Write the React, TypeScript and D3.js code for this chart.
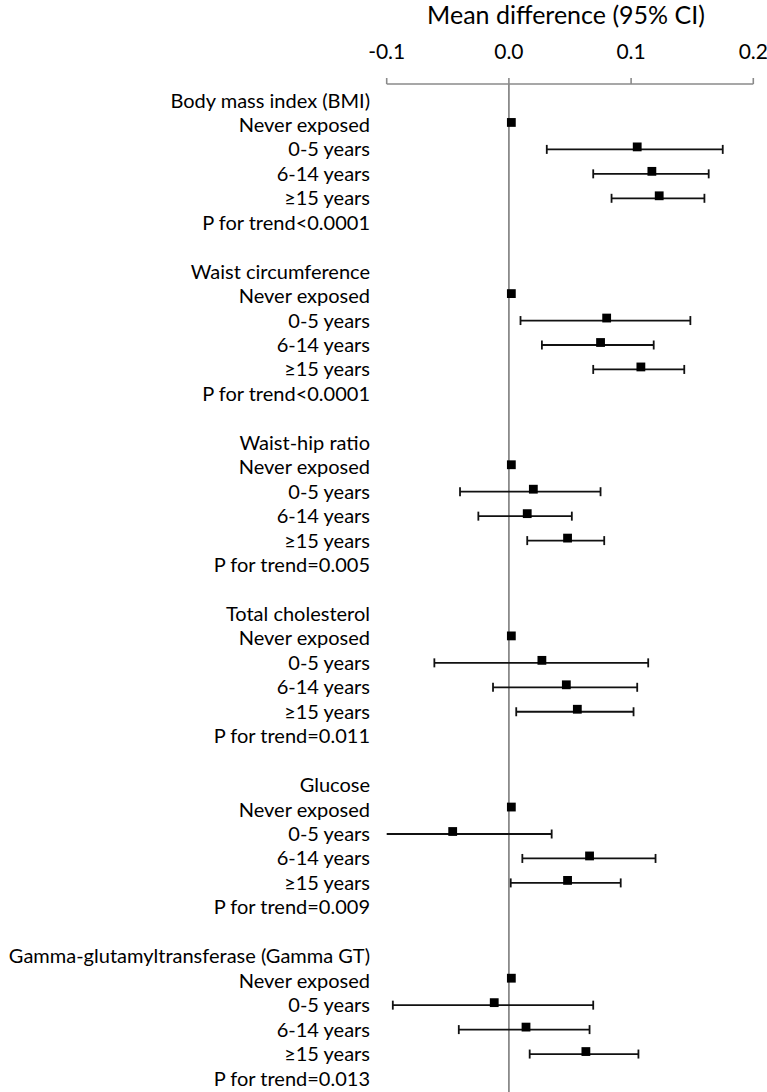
import React from "react";
import * as d3 from "d3";

const outcomes = [
  "Body mass index (BMI)",
  "Waist circumference",
  "Waist-hip ratio",
  "Total cholesterol",
  "Glucose",
  "Gamma-glutamyltransferase (Gamma GT)",
];
const exposures = ["Never exposed", "0-5 years", "6-14 years", "≥15 years"];
const pTrend = [
  "P for trend<0.0001",
  "P for trend<0.0001",
  "P for trend=0.005",
  "P for trend=0.011",
  "P for trend=0.009",
  "P for trend=0.013",
];
// mean difference per outcome, by exposure (Never, 0-5, 6-14, >=15)
const estimate = [
  [0.002, 0.105, 0.117, 0.123],
  [0.002, 0.08, 0.075, 0.108],
  [0.002, 0.02, 0.015, 0.048],
  [0.002, 0.027, 0.047, 0.056],
  [0.002, -0.046, 0.066, 0.048],
  [0.002, -0.012, 0.014, 0.063],
];
const lower = [
  [null, 0.031, 0.069, 0.084],
  [null, 0.0095, 0.027, 0.069],
  [null, -0.04, -0.025, 0.015],
  [null, -0.061, -0.013, 0.006],
  [null, -0.105, 0.011, 0.0015],
  [null, -0.095, -0.041, 0.017],
];
const upper = [
  [null, 0.175, 0.1635, 0.16],
  [null, 0.1485, 0.1185, 0.1435],
  [null, 0.075, 0.0515, 0.078],
  [null, 0.114, 0.105, 0.102],
  [null, 0.035, 0.12, 0.0915],
  [null, 0.069, 0.066, 0.106],
];
const ticks = [-0.1, 0, 0.1, 0.2];
const tickLabels = ["-0.1", "0.0", "0.1", "0.2"];
const title = "Mean difference (95% CI)";

const W = 767;
const H = 1092;
const FONT = "Lato, 'Open Sans', sans-serif";

export default function App() {
  const x = d3.scaleLinear().domain([-0.1, 0.2]).range([386.7, 753.3]);
  const rowY = (i: number) => 99.5 + i * 24.45;
  const axisY = 84;
  const labelX = 370;
  const grey = "#8a8a8a";

  const rows: { text: string; y: number; g: number; k: number | null }[] = [];
  outcomes.forEach((o, g) => {
    const base = g * 7;
    rows.push({ text: o, y: rowY(base), g, k: null });
    exposures.forEach((e, k) => rows.push({ text: e, y: rowY(base + 1 + k), g, k }));
    rows.push({ text: pTrend[g], y: rowY(base + 5), g, k: null });
  });

  const [d0, d1] = x.domain();
  const clamp = (v: number) => Math.max(d0, Math.min(d1, v));

  return (
    <svg
      width={W}
      height={H}
      style={{ position: "absolute", left: 0, top: 0, background: "#fff" }}
      fontFamily={FONT}
    >
      <rect x={0} y={0} width={W} height={H} fill="#fff" />
      <text x={566} y={14} fontSize={25} textAnchor="middle" dominantBaseline="central" fill="#000">
        {title}
      </text>
      {ticks.map((t, i) => (
        <text key={t} x={x(t)} y={50} fontSize={21} textAnchor="middle" dominantBaseline="central" fill="#000">
          {tickLabels[i]}
        </text>
      ))}
      <line x1={x(d0)} x2={x(d1)} y1={axisY} y2={axisY} stroke={grey} strokeWidth={1.6} />
      {ticks.map((t) => (
        <line key={"t" + t} x1={x(t)} x2={x(t)} y1={axisY - 6} y2={axisY} stroke={grey} strokeWidth={1.6} />
      ))}
      <line x1={x(0)} x2={x(0)} y1={axisY} y2={H} stroke={grey} strokeWidth={1.8} />

      {rows.map((r, i) => (
        <text key={"l" + i} x={labelX} y={r.y} fontSize={20} textAnchor="end" dominantBaseline="central" fill="#000">
          {r.text}
        </text>
      ))}

      {rows
        .filter((r) => r.k !== null)
        .map((r, i) => {
          const g = r.g;
          const k = r.k as number;
          const lo = lower[g][k];
          const hi = upper[g][k];
          const est = estimate[g][k];
          const ly = r.y + 1;
          return (
            <g key={"m" + i}>
              {lo !== null && hi !== null && (
                <>
                  <line x1={x(clamp(lo))} x2={x(clamp(hi))} y1={ly} y2={ly} stroke="#111" strokeWidth={1.8} />
                  {lo >= d0 && (
                    <line x1={x(lo)} x2={x(lo)} y1={ly - 4.5} y2={ly + 4.5} stroke="#111" strokeWidth={1.8} />
                  )}
                  {hi <= d1 && (
                    <line x1={x(hi)} x2={x(hi)} y1={ly - 4.5} y2={ly + 4.5} stroke="#111" strokeWidth={1.8} />
                  )}
                </>
              )}
              <rect x={x(est) - 4.4} y={r.y - 1.5 - 4.4} width={8.8} height={8.8} fill="#000" />
            </g>
          );
        })}
    </svg>
  );
}
